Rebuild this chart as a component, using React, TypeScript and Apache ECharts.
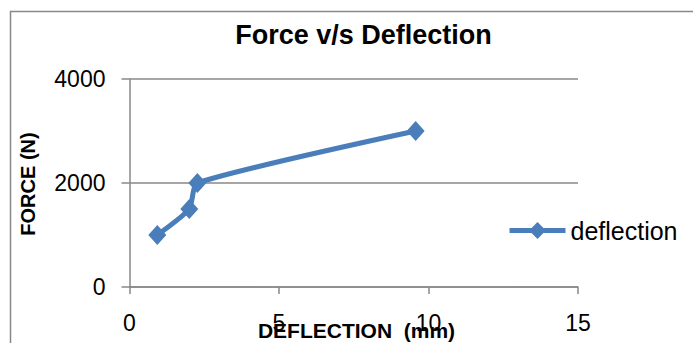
import React, { useEffect, useRef } from "react";
import * as echarts from "echarts";

const seriesName = "deflection";
const deflection = [0.93, 2.0, 2.27, 9.57];
const force = [1000, 1500, 2000, 3000];
const xTicks = { min: 0, max: 15, interval: 5 };
const yTicks = { min: 0, max: 4000, interval: 2000 };
const titleText = "Force v/s Deflection";
const xName = "DEFLECTION  (mm)";
const yName = "FORCE (N)";

const FONT = "'Liberation Sans', Arial, sans-serif";
const BLUE = "#4A7EBB";
const GRAY = "#888888";

export default function App() {
  const ref = useRef<HTMLDivElement>(null);
  useEffect(() => {
    document.body.style.margin = "0";
    const chart = echarts.init(ref.current!, null, { renderer: "svg" });
    chart.setOption({
      animation: false,
      backgroundColor: "#ffffff",
      grid: { left: 129.5, right: 115, top: 79, bottom: 56 },
      xAxis: {
        type: "value",
        min: xTicks.min,
        max: xTicks.max,
        interval: xTicks.interval,
        axisLine: { show: true, lineStyle: { color: GRAY, width: 1.5 } },
        axisTick: { show: true, length: 7, lineStyle: { color: GRAY, width: 1.5 } },
        axisLabel: {
          margin: 24,
          color: "#000",
          fontFamily: FONT,
          fontSize: 23,
          formatter: (v: number) => String(v),
        },
        splitLine: { show: false },
      },
      yAxis: {
        type: "value",
        min: yTicks.min,
        max: yTicks.max,
        interval: yTicks.interval,
        axisLine: { show: true, lineStyle: { color: GRAY, width: 1.5 } },
        axisTick: { show: true, length: 8, lineStyle: { color: GRAY, width: 1.5 } },
        axisLabel: {
          margin: 24,
          color: "#000",
          fontFamily: FONT,
          fontSize: 23,
          formatter: (v: number) => String(v),
        },
        splitLine: { show: true, lineStyle: { color: GRAY, width: 1.5 } },
      },
      legend: {
        show: true,
        left: 502,
        top: 213,
        itemWidth: 56,
        itemHeight: 21,
        itemGap: 6,
        lineStyle: { width: 5, color: BLUE },
        textStyle: { color: "#000", fontFamily: FONT, fontSize: 25 },
        data: [seriesName],
      },
      series: [
        {
          name: seriesName,
          type: "line",
          smooth: 0.2,
          data: deflection.map((d, i) => [d, force[i]]),
          symbol: "diamond",
          symbolSize: [18, 20],
          itemStyle: { color: BLUE },
          lineStyle: { color: BLUE, width: 5 },
        },
      ],
      graphic: [
        {
          type: "rect",
          shape: { x: 10.5, y: 11.5, width: 900, height: 600 },
          style: { fill: "none", stroke: GRAY, lineWidth: 1.5 },
          silent: true,
        },
        {
          type: "text",
          x: 363.5,
          y: 35,
          style: {
            text: titleText,
            font: `bold 27px ${FONT}`,
            fill: "#000",
            textAlign: "center",
            textVerticalAlign: "middle",
          },
        },
        {
          type: "text",
          x: 27.5,
          y: 184,
          rotation: Math.PI / 2,
          style: {
            text: yName,
            font: `bold 20px ${FONT}`,
            fill: "#000",
            textAlign: "center",
            textVerticalAlign: "middle",
          },
        },
        {
          type: "text",
          x: 356.5,
          y: 330,
          z: 100,
          style: {
            text: xName,
            font: `bold 21px ${FONT}`,
            fill: "#000",
            textAlign: "center",
            textVerticalAlign: "middle",
          },
        },
      ],
    });
    return () => chart.dispose();
  }, []);
  return <div ref={ref} style={{ width: 693, height: 343 }} />;
}
